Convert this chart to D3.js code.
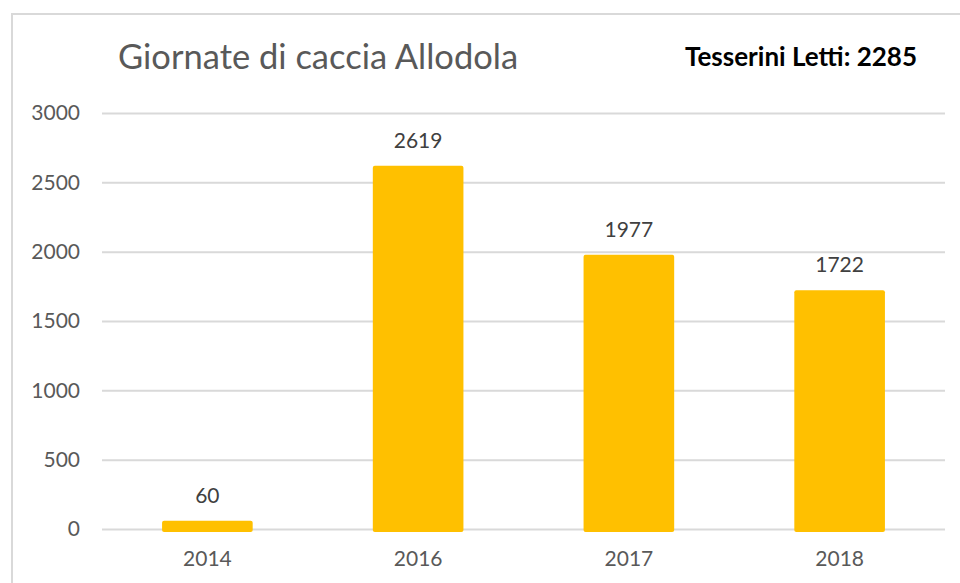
<!DOCTYPE html>
<html>
<head>
<meta charset="utf-8">
<script src="https://cdn.jsdelivr.net/npm/d3@7"></script>
<style>
  body { margin: 0; background: #fff; }
  text { font-family: Lato, "Open Sans", sans-serif; }
</style>
</head>
<body>
<script>
const years = ["2014", "2016", "2017", "2018"];
const giornate = [60, 2619, 1977, 1722];
const yTicks = [0, 500, 1000, 1500, 2000, 2500, 3000];

const width = 960, height = 583;
const margin = { top: 113, right: 15, bottom: 54, left: 102 };

const svg = d3.select("body").append("svg")
  .attr("width", width)
  .attr("height", height);

// chart frame
svg.append("rect")
  .attr("x", 12).attr("y", 14)
  .attr("width", 960).attr("height", 600)
  .attr("fill", "#fff")
  .attr("stroke", "#d9d9d9")
  .attr("stroke-width", 2);

const x = d3.scaleBand()
  .domain(years)
  .range([margin.left, width - margin.right])
  .paddingInner(0.57)
  .paddingOuter(0.285);

const y = d3.scaleLinear()
  .domain([0, 3000])
  .range([height - margin.bottom, margin.top]);

// gridlines + y labels
const yAxis = svg.append("g")
  .attr("transform", `translate(${margin.left},0)`)
  .call(d3.axisLeft(y).tickValues(yTicks).tickFormat(d3.format("d"))
    .tickSize(-(width - margin.right - margin.left)).tickPadding(22));
yAxis.select(".domain").remove();
yAxis.selectAll(".tick line").attr("stroke", "#d9d9d9").attr("stroke-width", 2);
yAxis.selectAll(".tick text")
  .attr("fill", "#595959")
  .style("font-size", "21px");

// bars
svg.append("g").selectAll("rect")
  .data(years.map((yr, i) => ({ yr, v: giornate[i] })))
  .join("rect")
  .attr("x", d => x(d.yr))
  .attr("width", x.bandwidth())
  .attr("y", d => y(d.v))
  .attr("height", d => y(0) - y(d.v) + 3)
  .attr("rx", 2)
  .attr("fill", "#ffc000");

// value labels
svg.append("g").selectAll("text")
  .data(years.map((yr, i) => ({ yr, v: giornate[i] })))
  .join("text")
  .attr("x", d => x(d.yr) + x.bandwidth() / 2)
  .attr("y", d => y(d.v) - 18)
  .attr("text-anchor", "middle")
  .attr("fill", "#404040")
  .style("font-size", "21px")
  .text(d => d.v);

// x labels
const xAxis = svg.append("g")
  .attr("transform", `translate(0,${y(0)})`)
  .call(d3.axisBottom(x).tickSize(0).tickPadding(22));
xAxis.select(".domain").remove();
xAxis.selectAll(".tick text")
  .attr("fill", "#595959")
  .style("font-size", "21px");

// titles
svg.append("text")
  .attr("x", 118).attr("y", 69)
  .attr("fill", "#595959")
  .style("font-size", "34.5px")
  .text("Giornate di caccia Allodola");

svg.append("text")
  .attr("x", 917).attr("y", 66)
  .attr("text-anchor", "end")
  .attr("fill", "#000")
  .style("font-size", "26px")
  .style("font-weight", "bold")
  .text("Tesserini Letti: 2285");
</script>
</body>
</html>
